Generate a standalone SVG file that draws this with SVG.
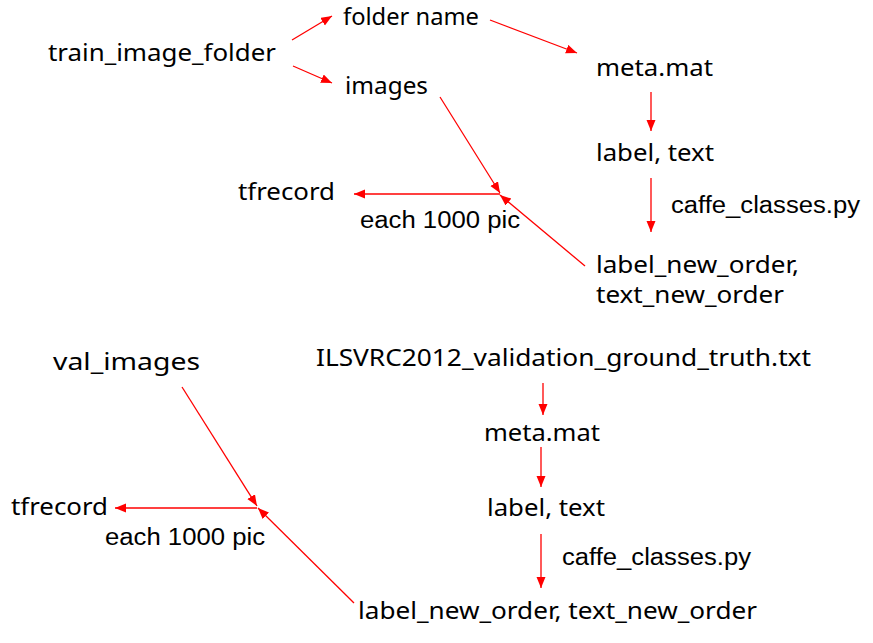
<svg xmlns="http://www.w3.org/2000/svg" width="873" height="643" viewBox="0 0 873 643">
<style>
.n{font-family:"Noto Sans","Open Sans",sans-serif;font-size:24px;fill:#000}
.l{font-family:"Liberation Sans",Arial,sans-serif;font-size:23px;fill:#000}
.c{stroke:#ff0000;stroke-width:1.3;fill:none;marker-end:url(#ah)}
</style>
<defs>
<marker id="ah" markerUnits="userSpaceOnUse" markerWidth="12" markerHeight="10" refX="11" refY="4.5" orient="auto">
<path d="M0,0 L11,4.5 L0,9 z" fill="#ff0000"/>
</marker>
</defs>
<rect width="873" height="643" fill="#fff"/>
<g id="connectors">
<line class="c" x1="292" y1="40" x2="332" y2="16"/>
<line class="c" x1="293" y1="66" x2="332" y2="83"/>
<line class="c" x1="490" y1="20" x2="577" y2="53"/>
<line class="c" x1="651" y1="92" x2="651" y2="131"/>
<line class="c" x1="651" y1="178" x2="651" y2="232"/>
<line class="c" x1="440" y1="97" x2="500" y2="193"/>
<line class="c" x1="585" y1="266" x2="500" y2="195"/>
<line class="c" x1="500" y1="194" x2="354" y2="194"/>
<line class="c" x1="543" y1="383" x2="543" y2="415"/>
<line class="c" x1="541" y1="447" x2="541" y2="487"/>
<line class="c" x1="541" y1="534" x2="541" y2="588"/>
<line class="c" x1="182" y1="387" x2="257" y2="506"/>
<line class="c" x1="354" y1="603" x2="258" y2="508"/>
<line class="c" x1="257" y1="508" x2="115" y2="508"/>
</g>
<g id="train_image_folder"><text class="n" x="48" y="61" textLength="228" lengthAdjust="spacingAndGlyphs">train_image_folder</text></g>
<g id="folder_name"><text class="n" x="343" y="25" textLength="136" lengthAdjust="spacingAndGlyphs">folder name</text></g>
<g id="images"><text class="n" x="345" y="94" textLength="83" lengthAdjust="spacingAndGlyphs">images</text></g>
<g id="meta_mat_1"><text class="n" x="596" y="76" textLength="117" lengthAdjust="spacingAndGlyphs">meta.mat</text></g>
<g id="label_text_1"><text class="n" x="596" y="161" textLength="118" lengthAdjust="spacingAndGlyphs">label, text</text></g>
<g id="caffe_1"><text class="l" x="671" y="213" textLength="189" lengthAdjust="spacingAndGlyphs">caffe_classes.py</text></g>
<g id="label_new_order_1">
<text class="n" x="596" y="273" textLength="203" lengthAdjust="spacingAndGlyphs">label_new_order,</text>
<text class="n" x="596" y="303" textLength="188" lengthAdjust="spacingAndGlyphs">text_new_order</text>
</g>
<g id="tfrecord_1"><text class="n" x="238" y="200" textLength="97" lengthAdjust="spacingAndGlyphs">tfrecord</text></g>
<g id="each_1"><text class="l" x="360" y="228" textLength="160" lengthAdjust="spacingAndGlyphs">each 1000 pic</text></g>
<g id="val_images"><text class="n" x="53" y="370" textLength="147" lengthAdjust="spacingAndGlyphs">val_images</text></g>
<g id="ilsvrc"><text class="n" x="316" y="366" textLength="495" lengthAdjust="spacingAndGlyphs">ILSVRC2012_validation_ground_truth.txt</text></g>
<g id="meta_mat_2"><text class="n" x="484" y="441" textLength="116" lengthAdjust="spacingAndGlyphs">meta.mat</text></g>
<g id="label_text_2"><text class="n" x="487" y="516" textLength="118" lengthAdjust="spacingAndGlyphs">label, text</text></g>
<g id="caffe_2"><text class="l" x="562" y="565" textLength="189" lengthAdjust="spacingAndGlyphs">caffe_classes.py</text></g>
<g id="label_new_order_2"><text class="n" x="358" y="619" textLength="399" lengthAdjust="spacingAndGlyphs">label_new_order, text_new_order</text></g>
<g id="tfrecord_2"><text class="n" x="11" y="515" textLength="97" lengthAdjust="spacingAndGlyphs">tfrecord</text></g>
<g id="each_2"><text class="l" x="105" y="545" textLength="160" lengthAdjust="spacingAndGlyphs">each 1000 pic</text></g>
</svg>
